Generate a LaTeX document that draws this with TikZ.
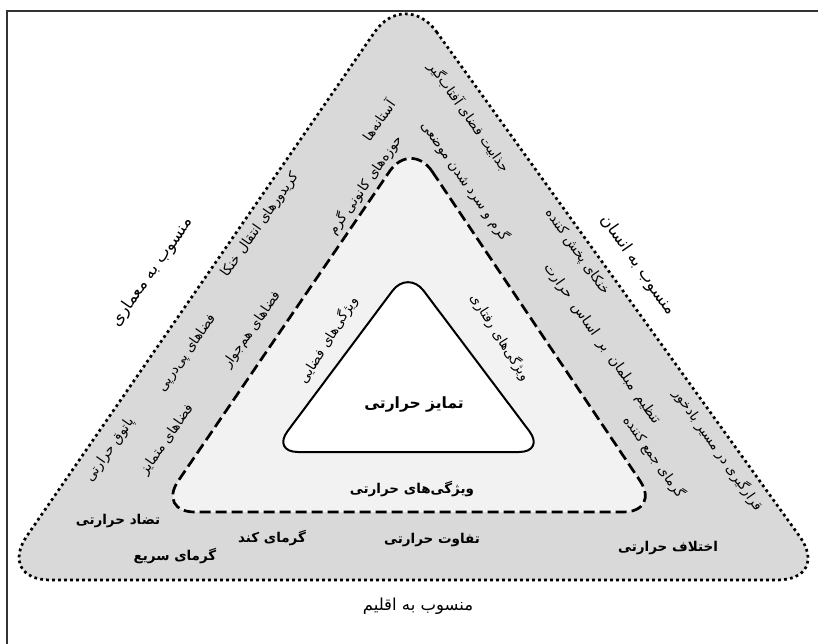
\documentclass[tikz,border=0pt]{standalone}
\usepackage{fontspec}
\newfontfamily\ar[Script=Arabic]{DejaVu Sans}
\TeXXeTstate=1
\newcommand{\fa}[1]{\beginR #1\endR}
\definecolor{bandgray}{HTML}{D9D9D9}
\definecolor{midgray}{HTML}{F2F2F2}
\begin{document}
\begin{tikzpicture}[x=1pt,y=-1pt,
  frameline/.style={draw=black!80,line width=1.1pt},
  outertri/.style={fill=bandgray,draw=black,line width=2.7pt,dash pattern=on 2.7pt off 3.3pt,rounded corners=54pt},
  midtri/.style={fill=midgray,draw=black,line width=2.7pt,dash pattern=on 11pt off 5pt,rounded corners=38pt},
  innertri/.style={fill=white,draw=black,line width=2pt,rounded corners=26pt},
  lbl/.style={inner sep=0pt,font=\ar\fontsize{13.5}{15}\selectfont},
  blbl/.style={inner sep=0pt,font=\ar\bfseries\fontsize{13.5}{15}\selectfont},
  side/.style={inner sep=0pt,font=\ar\fontsize{16.5}{19}\selectfont},
  core/.style={inner sep=0pt,font=\ar\bfseries\fontsize{15.5}{18}\selectfont}]
\useasboundingbox (0,0) rectangle (818,644);
\draw[frameline] (818,11) -- (7,11) -- (7,644);
\path[outertri] (405,-12) -- (831,580) -- (-3.5,580) -- cycle;
\path[midtri] (411,140) -- (661,512) -- (157,512) -- cycle;
\path[innertri] (408,270) -- (545,452) -- (272,452) -- cycle;
% core
\node[core] (core) at (414,405) {\fa{تمایز حرارتی}};
% middle band
\node[lbl,rotate=58] (spat) at (328,340) {\fa{ویژگی‌های فضایی}};
\node[lbl,rotate=-58] (behav) at (500,337) {\fa{ویژگی‌های رفتاری}};
\node[blbl] (therm) at (412,489) {\fa{ویژگی‌های حرارتی}};
% right band
\node[lbl,rotate=-55] (r1) at (469,117) {\fa{جذابیت فضای آفتاب‌گیر}};
\node[lbl,rotate=-55] (r2) at (465,181) {\fa{گرم و سرد شدن موضعی}};
\node[lbl,rotate=-55] (r3) at (577,252) {\fa{خنکای پخش کننده}};
\node[lbl,rotate=-55,font=\ar\fontsize{14}{16}\selectfont] (r4) at (602,344) {\spaceskip=8pt plus 1pt\fa{تنظیم مبلمان بر اساس حرارت}};
\node[lbl,rotate=-55] (r5) at (718,450) {\fa{قرارگیری در مسیر بادخور}};
\node[lbl,rotate=-55] (r6) at (654,457) {\fa{گرمای جمع کننده}};
% left band
\node[lbl,rotate=55] (l1) at (378,120) {\fa{آستانه‌ها}};
\node[lbl,rotate=55] (l2) at (365,185) {\fa{حوزه‌های کانونی گرم}};
\node[lbl,rotate=55] (l3) at (260,225) {\fa{کریدورهای انتقال خنکا}};
\node[lbl,rotate=55] (l4) at (252,330) {\fa{فضاهای هم‌جوار}};
\node[lbl,rotate=55] (l5) at (187,353) {\fa{فضاهای پی‌درپی}};
\node[lbl,rotate=55] (l6) at (167,440) {\fa{فضاهای متمایز}};
\node[lbl,rotate=55] (l7) at (110,450) {\fa{پاتوق حرارتی}};
% bottom band
\node[blbl] (b1) at (118,521) {\fa{تضاد حرارتی}};
\node[blbl] (b2) at (272,538) {\fa{گرمای کند}};
\node[blbl] (b3) at (175,556) {\fa{گرمای سریع}};
\node[blbl] (b4) at (432,540) {\fa{تفاوت حرارتی}};
\node[blbl] (b5) at (668,548) {\fa{اختلاف حرارتی}};
% outside
\node[side,rotate=-55] (human) at (638,265) {\fa{منسوب به انسان}};
\node[side,rotate=55] (arch) at (152,272) {\fa{منسوب به معماری}};
\node[side] (clim) at (418,606) {\fa{منسوب به اقلیم}};
\end{tikzpicture}
\end{document}
